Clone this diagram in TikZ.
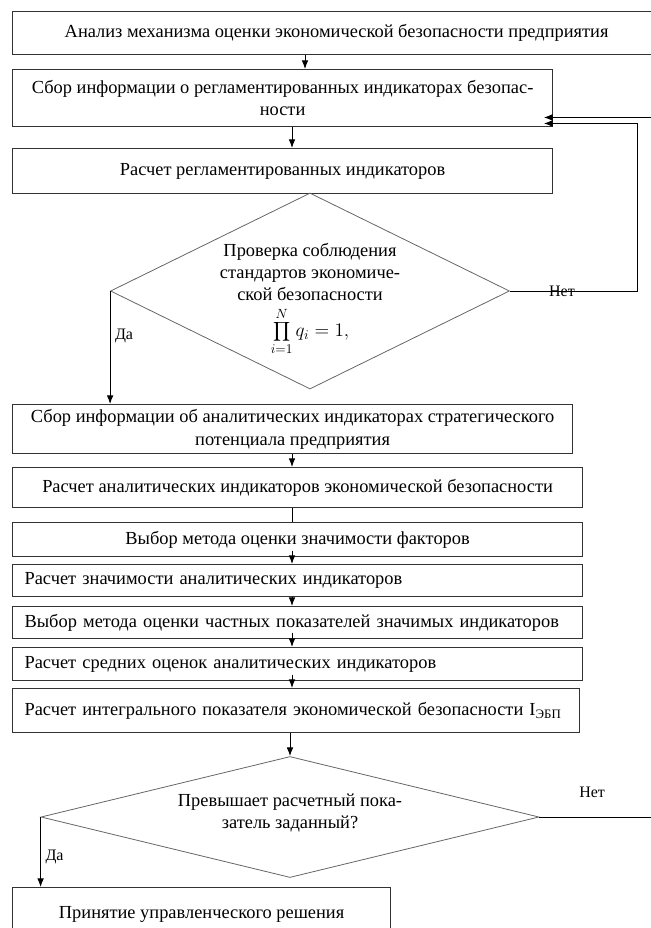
\documentclass[tikz,border=0pt]{standalone}
\usepackage{fontspec}
\setmainfont{Liberation Serif}
\usepackage{tikz}
\usetikzlibrary{arrows.meta,shapes.geometric,calc}
\tikzset{
    blok/.style={
        rectangle,
        draw=black!80,
        line width=0.9pt,
        anchor=north west,
        inner xsep=9pt,
        inner ysep=0pt,
        align=center,
        font=\fontsize{13.8}{17}\selectfont,
    },
    blokl/.style={
        blok,
        align=left,
    },
    romb/.style={
        diamond,
        draw=black!60,
        line width=0.6pt,
        inner sep=0pt,
    },
    rtext/.style={
        align=center,
        inner sep=0pt,
        font=\fontsize{13.8}{16.5}\selectfont,
    },
    strelka/.style={
        draw,
        -{Latex[length=6.5pt,width=5pt]},
        line width=0.7pt,
    },
    liniya/.style={
        draw,
        line width=0.7pt,
    },
    metka/.style={
        font=\fontsize{12}{14}\selectfont,
    },
}

\begin{document}
\begin{tikzpicture}[x=0.75pt, y=-0.75pt]
    \useasboundingbox (0,0) rectangle (650,928);
    \coordinate (os) at (292,0);
    \coordinate (vozvrat) at (662,0);
    \coordinate (petlya) at (637,0);

    \node [blok, minimum width=486pt, minimum height=32.25pt] (b1) at (12,11)
        {Анализ механизма оценки экономической безопасности предприятия};
    \node [blok, minimum width=405pt, minimum height=42.75pt] (b2) at (12,69)
        {Сбор информации о регламентированных индикаторах безопас-\\ности};
    \node [blok, minimum width=405pt, minimum height=33.75pt] (b3) at (12,148)
        {Расчет регламентированных индикаторов};
    \node [romb, minimum width=299.25pt, minimum height=147pt] (d1) at (310,291) {};
    \node [rtext] (d1t) at (310,299)
        {Проверка соблюдения\\стандартов экономиче-\\ской безопасности\\[5pt]
         $\displaystyle\prod_{i=1}^{N} q_i = 1,$};
    \node [blok, minimum width=420pt, minimum height=36.75pt] (b4) at (12,404)
        {Сбор информации об аналитических индикаторах стратегического\\потенциала предприятия};
    \node [blok, minimum width=427.5pt, minimum height=30pt] (b5) at (12,467)
        {Расчет аналитических индикаторов экономической безопасности};
    \node [blok, minimum width=427.5pt, minimum height=25.5pt] (b6) at (12,522)
        {Выбор метода оценки значимости факторов};
    \node [blokl, text width=409.5pt, minimum height=24pt] (b7) at (12,564)
        {Расчет значимости аналитических индикаторов};
    \node [blokl, text width=409.5pt, minimum height=24pt] (b8) at (12,606)
        {\mbox{Выбор метода оценки частных показателей значимых индикаторов}};
    \node [blokl, text width=409.5pt, minimum height=24.75pt] (b9) at (12,647)
        {Расчет средних оценок аналитических индикаторов};
    \node [blokl, text width=407.25pt, minimum height=33pt] (b10) at (12,688)
        {\mbox{Расчет интегрального показателя экономической безопасности I\textsubscript{ЭБП}}};
    \node [romb, minimum width=373.5pt, minimum height=90.75pt] (d2) at (290,817) {};
    \node [rtext] (d2t) at (290,813)
        {Превышает расчетный пока-\\затель заданный?};
    \node [blok, minimum width=283.5pt, minimum height=45pt] (b11) at (12,887)
        {\raisebox{7.5pt}{Принятие управленческого решения}};

    % returns into b2
    \coordinate (r1) at ([yshift=-14.5pt]b2.east);
    \coordinate (r2) at ([yshift=-19pt]b2.east);

    \draw [strelka] (b1.south -| 305,0) -- (b2.north -| 305,0);
    \draw [strelka] (b2.south -| os) -- (b3.north -| os);
    \draw [strelka] (d1.west) -- (d1.west |- b4.north)
        node [metka, pos=0.4, right] {Да};
    \draw [strelka, shorten >=-7pt] (d1.east) -- (d1.east -| petlya)
        node [metka, pos=0.41] {Нет} |- (r2);
    \draw [strelka, shorten >=-7pt] (vozvrat |- r1) -- (r1);
    \draw [strelka] (b4.south -| os) -- (b5.north -| os);
    \draw [liniya] (b5.south -| os) -- (b6.north -| os);
    \draw [strelka] ([yshift=5pt]b6.south -| os) -- (b7.north -| os);
    \draw [strelka] (b7.south -| os) -- (b8.north -| os);
    \draw [strelka] ([yshift=5pt]b8.south -| os) -- (b9.north -| os);
    \draw [strelka] ([yshift=5pt]b9.south -| os) -- (b10.north -| os);
    \draw [strelka] (b10.south -| d2.north) -- (d2.north);
    \draw [strelka] (d2.west) -- (d2.west |- b11.north)
        node [metka, pos=0.57, right] {Да};
    \draw [liniya] (d2.east) -- (d2.east -| vozvrat)
        node [metka, pos=0.43, above=11pt] {Нет};
\end{tikzpicture}
\end{document}
